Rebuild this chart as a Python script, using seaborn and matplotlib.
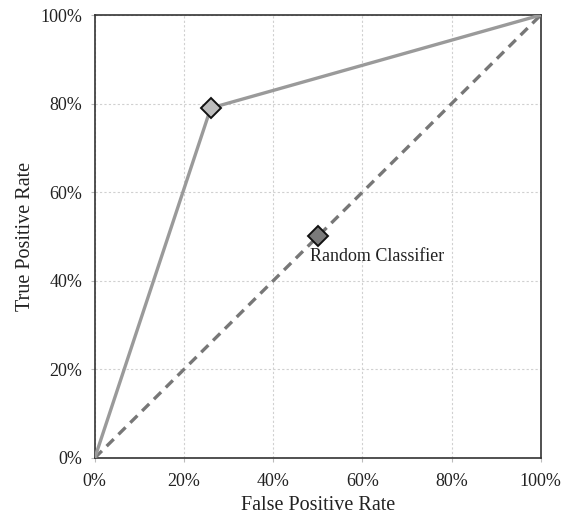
import matplotlib
matplotlib.use("Agg")
import matplotlib.pyplot as plt
import seaborn as sns
import numpy as np
import pandas as pd
from matplotlib.ticker import PercentFormatter

# ROC curve points
roc_fpr = [0.0, 0.26, 1.0]
roc_tpr = [0.0, 0.79, 1.0]
# random classifier diagonal
rand_fpr = [0.0, 1.0]
rand_tpr = [0.0, 1.0]
# highlighted points
clf_point = (0.26, 0.79)
rand_point = (0.5, 0.5)
rand_label = "Random Classifier"
ticks = [0, 0.2, 0.4, 0.6, 0.8, 1.0]

sns.set_style("white")
plt.rcParams["font.family"] = ["Liberation Serif", "DejaVu Serif"]

fig = plt.figure(figsize=(5.61, 5.18), dpi=100)
ax = fig.add_axes([0.169, 0.116, 0.795, 0.855])

roc = pd.DataFrame({"fpr": roc_fpr, "tpr": roc_tpr})
rnd = pd.DataFrame({"fpr": rand_fpr, "tpr": rand_tpr})

sns.lineplot(data=rnd, x="fpr", y="tpr", ax=ax, color="#777777", lw=2.4,
             linestyle=(0, (3, 2)), zorder=3)
sns.lineplot(data=roc, x="fpr", y="tpr", ax=ax, color="#9a9a9a", lw=2.4, zorder=3)

ax.plot(*rand_point, marker="D", ms=10, mfc="#7a7a7a", mec="#111111", mew=1.4, zorder=5)
ax.plot(*clf_point, marker="D", ms=10, mfc="#bdbdbd", mec="#111111", mew=1.4, zorder=5)
ax.text(rand_point[0] - 0.018, rand_point[1] - 0.045, rand_label, fontsize=13,
        va="center", ha="left", color="#222222", zorder=6)

ax.set_xlim(0, 1)
ax.set_ylim(0, 1)
ax.set_xticks(ticks)
ax.set_yticks(ticks)
ax.xaxis.set_major_formatter(PercentFormatter(1.0, decimals=0))
ax.yaxis.set_major_formatter(PercentFormatter(1.0, decimals=0))
ax.grid(True, color="#d0d0d0", linestyle=(0, (2, 2)), lw=0.8)
ax.tick_params(axis="both", labelsize=13, labelcolor="#222222", color="#bbbbbb",
               length=3, width=0.8, direction="out", bottom=True, left=True)
ax.tick_params(axis="x", pad=8)
ax.tick_params(axis="y", pad=6)

for s in ax.spines.values():
    s.set_color("#333333")
    s.set_linewidth(1.2)

ax.set_xlabel("False Positive Rate", fontsize=14.5, color="#222222", labelpad=4)
ax.set_ylabel("True Positive Rate", fontsize=14.5, color="#222222", labelpad=4)

fig.savefig("out.png", dpi=100)
